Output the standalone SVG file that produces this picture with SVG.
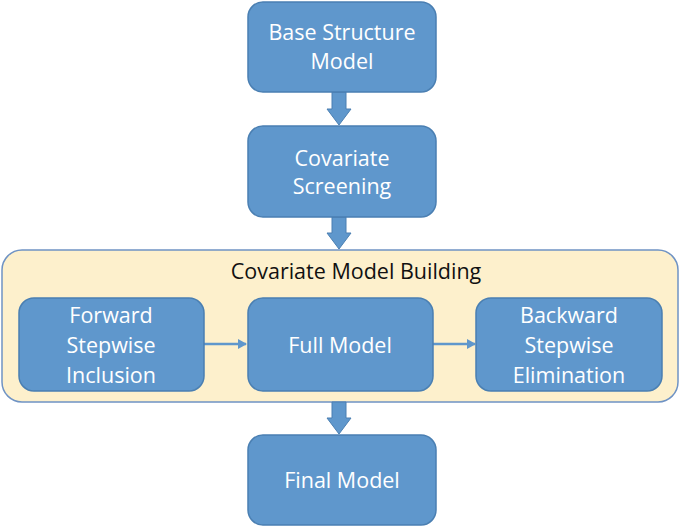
<svg xmlns="http://www.w3.org/2000/svg" width="685" height="528" viewBox="0 0 685 528">
<style>
.box{fill:#5f97cc;stroke:#4a7fb2;stroke-width:1.5}
.t{font-family:"Open Sans","Liberation Sans",sans-serif;font-size:21.5px;fill:#ffffff;text-anchor:middle}
.title{font-family:"Open Sans","Liberation Sans",sans-serif;font-size:21.5px;fill:#111111;text-anchor:middle}
.big{fill:#5f97cc;stroke:#4a7fb2;stroke-width:1}
.thin{stroke:#5f97cc;stroke-width:2.5;fill:none}
</style>
<defs>
<marker id="ah" markerWidth="10" markerHeight="10" refX="8" refY="5" orient="auto" markerUnits="userSpaceOnUse">
<path d="M0,0 L9,5 L0,10 z" fill="#5f97cc"/>
</marker>
</defs>
<rect width="685" height="528" fill="#ffffff"/>
<g id="container">
<rect x="2" y="250" width="676" height="152" rx="20" fill="#fdf0cc" stroke="#6f93c4" stroke-width="1.5"/>
<text class="title" x="356" y="279">Covariate Model Building</text>
</g>
<g id="connectors">
<path class="big" d="M332,92 H346 V109 H351 L339,125 L327,109 H332 Z"/>
<path class="big" d="M332,217 H346 V233 H351 L339,249 L327,233 H332 Z"/>
<path class="big" d="M332,402 H346 V418 H351 L339,434 L327,418 H332 Z"/>
<line class="thin" x1="204" y1="344" x2="246" y2="344" marker-end="url(#ah)"/>
<line class="thin" x1="433" y1="344" x2="475" y2="344" marker-end="url(#ah)"/>
</g>
<g id="base">
<rect class="box" x="248" y="2" width="188" height="90" rx="15"/>
<text class="t" x="342" y="40">Base Structure</text>
<text class="t" x="342" y="69">Model</text>
</g>
<g id="screening">
<rect class="box" x="248" y="126" width="188" height="91" rx="15"/>
<text class="t" x="342" y="166">Covariate</text>
<text class="t" x="342" y="194">Screening</text>
</g>
<g id="forward">
<rect class="box" x="19" y="298" width="185" height="93" rx="15"/>
<text class="t" x="111" y="323">Forward</text>
<text class="t" x="111" y="353">Stepwise</text>
<text class="t" x="111" y="383">Inclusion</text>
</g>
<g id="full">
<rect class="box" x="248" y="298" width="185" height="93" rx="15"/>
<text class="t" x="340" y="353">Full Model</text>
</g>
<g id="backward">
<rect class="box" x="476" y="298" width="186" height="93" rx="15"/>
<text class="t" x="569" y="323">Backward</text>
<text class="t" x="569" y="353">Stepwise</text>
<text class="t" x="569" y="383">Elimination</text>
</g>
<g id="final">
<rect class="box" x="248" y="435" width="188" height="90" rx="15"/>
<text class="t" x="342" y="488">Final Model</text>
</g>
</svg>
